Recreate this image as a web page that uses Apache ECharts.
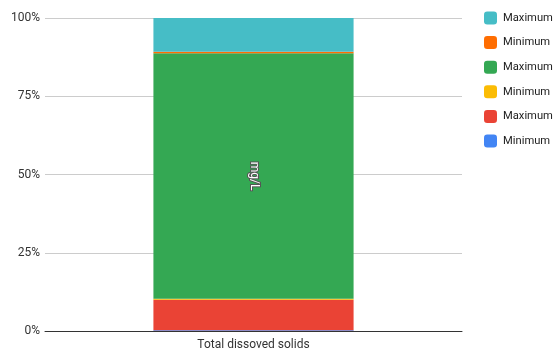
<!DOCTYPE html>
<html>
<head>
<meta charset="utf-8">
<script src="https://cdn.jsdelivr.net/npm/echarts@6/dist/echarts.min.js"></script>
<style>
  html, body { margin: 0; padding: 0; background: #fff; }
  #chart { width: 554px; height: 351px; }
</style>
</head>
<body>
<div id="chart"></div>
<script>
// Category and share of each stacked segment (percent of the column)
const categories = ['Total dissoved solids'];
const seriesNames = ['Minimum', 'Maximum', 'Minimum', 'Maximum', 'Minimum', 'Maximum'];
const seriesColors = ['#4285F4', '#EA4335', '#FBBC04', '#34A853', '#FF6D01', '#46BDC6'];
const seriesValues = [
  [0.2],
  [9.8],
  [0.3],
  [78.4],
  [0.5],
  [10.8]
];
const yTicks = ['0%', '25%', '50%', '75%', '100%'];
const unitLabel = 'mg/L';

const series = seriesValues.map((vals, i) => ({
  name: seriesNames[i] + '#' + i,
  type: 'bar',
  stack: 'total',
  barWidth: '48%',
  data: vals,
  itemStyle: { color: seriesColors[i] },
  label: i === 3 ? {
    show: true,
    position: 'inside',
    rotate: -90,
    formatter: unitLabel,
    color: '#fff',
    fontFamily: 'Roboto',
    fontSize: 12,
    textBorderColor: '#555',
    textBorderWidth: 2
  } : { show: false },
  emphasis: { disabled: true }
}));

const legendData = series.map((s, i) => ({
  name: s.name,
  itemStyle: { color: seriesColors[i] }
})).reverse();

const chart = echarts.init(document.getElementById('chart'), null, { renderer: 'canvas' });
chart.setOption({
  animation: false,
  grid: { left: 45, right: 92, top: 18, bottom: 20, containLabel: false },
  legend: {
    orient: 'vertical',
    left: 479,
    top: 6.5,
    itemWidth: 13,
    itemHeight: 13,
    itemGap: 11.6,
    icon: 'roundRect',
    data: legendData,
    formatter: (n) => n.split('#')[0],
    textStyle: { fontFamily: 'Roboto', fontSize: 11.2, color: '#222', padding: [0, 0, 0, 1] }
  },
  xAxis: {
    type: 'category',
    data: categories,
    axisLine: { lineStyle: { color: '#333', width: 1 } },
    axisTick: { show: false },
    axisLabel: { fontFamily: 'Roboto', fontSize: 12, color: '#333', margin: 8 }
  },
  yAxis: {
    type: 'value',
    min: 0,
    max: 100,
    interval: 25,
    axisLine: { show: false },
    axisTick: { show: false },
    axisLabel: {
      fontFamily: 'Roboto',
      fontSize: 12,
      color: '#333',
      margin: 5,
      formatter: (v) => yTicks[Math.round(v / 25)]
    },
    splitLine: { lineStyle: { color: '#ccc', width: 1 } }
  },
  series: series
});
</script>
</body>
</html>
